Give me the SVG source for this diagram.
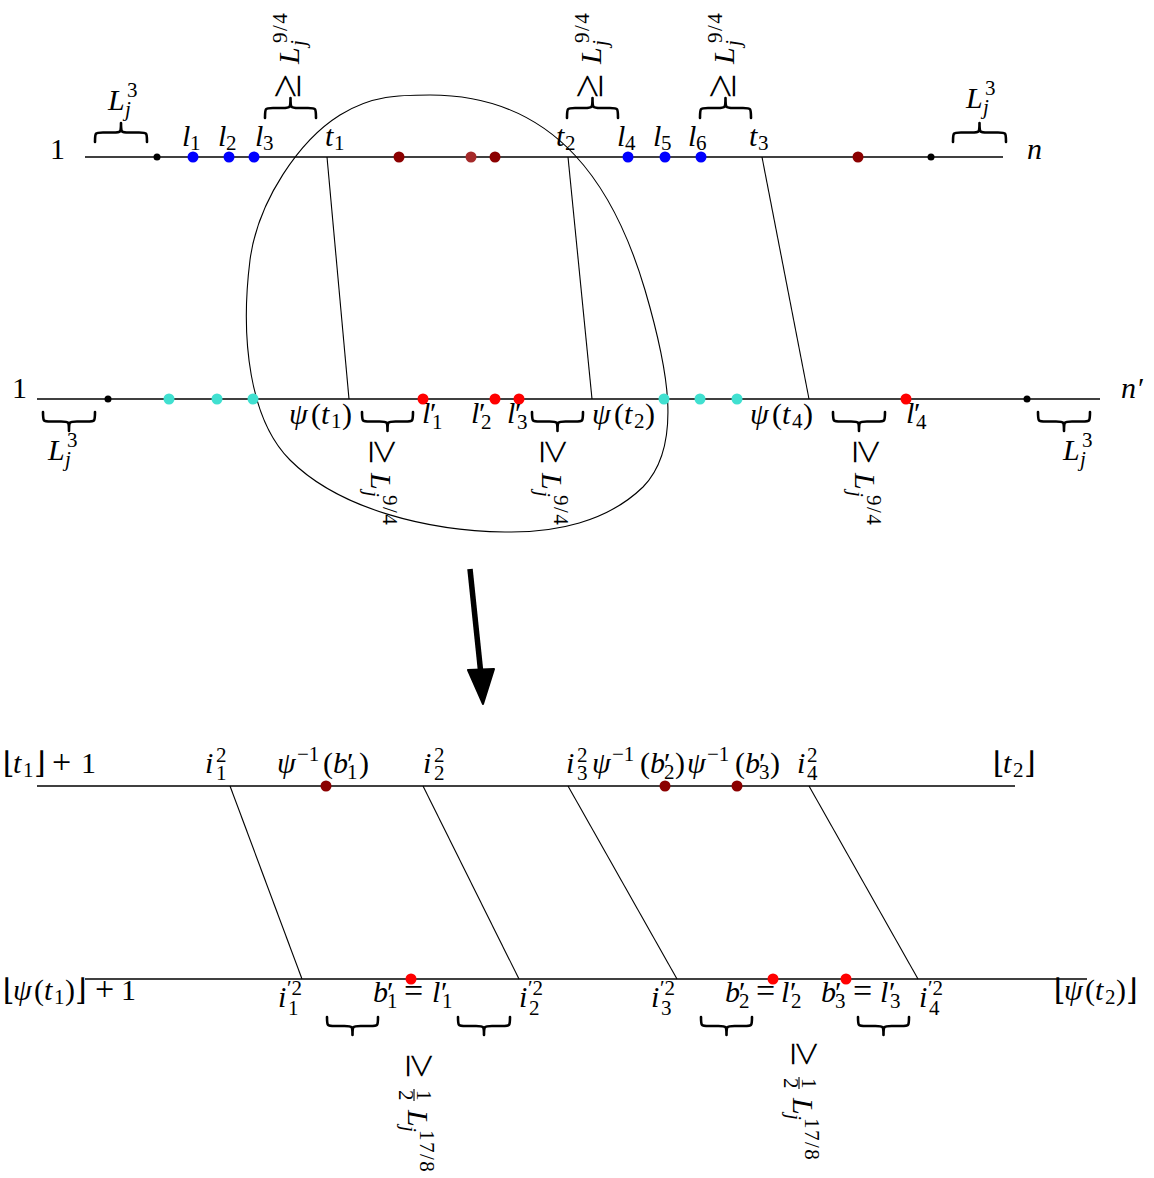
<svg xmlns="http://www.w3.org/2000/svg" width="1154" height="1178" viewBox="0 0 1154 1178" font-family="Liberation Serif, Times New Roman, DejaVu Serif, serif">
<style>
text{font-family:"Liberation Serif","Times New Roman","DejaVu Serif",serif;font-size:30px;fill:#000}
.i{font-style:italic}
.s{font-size:21px}
.g{font-size:44px}
.o{font-size:34px}
.f{letter-spacing:1.5px}
.ax{stroke:#000;stroke-width:1.3;fill:none}
.cn{stroke:#000;stroke-width:1.1;fill:none}
.br{stroke:#000;stroke-width:2.6;fill:none;stroke-linecap:round;stroke-linejoin:round}
.fb{stroke:#000;stroke-width:1.1}
.dk{fill:#000}
.bl{fill:#0000ff}
.dr{fill:#8b0000}
.bn{fill:#a52a2a}
.rd{fill:#ff0000}
.tq{fill:#40e0d0}
</style>
<rect width="1154" height="1178" fill="#fff"/>

<g id="connectors">
  <line class="cn" x1="327" y1="157" x2="349" y2="399"/>
  <line class="cn" x1="568" y1="157" x2="592" y2="399"/>
  <line class="cn" x1="762" y1="157" x2="809" y2="399"/>
  <line class="cn" x1="230" y1="786" x2="302" y2="979"/>
  <line class="cn" x1="423" y1="786" x2="519" y2="979"/>
  <line class="cn" x1="568" y1="786" x2="677" y2="979"/>
  <line class="cn" x1="809" y1="786" x2="918" y2="979"/>
  <line x1="470" y1="569" x2="481" y2="675" stroke="#000" stroke-width="5.5"/>
  <polygon points="468,670 494,669 483,704" fill="#000" stroke="#000" stroke-width="2" stroke-linejoin="round"/>
</g>

<g id="region">
  <path class="cn" d="M430,95 C560,95 616,192 645,290 C667,365 684,445 643,487 C607,522 555,533 505,532 C430,531 340,510 290,460 C250,420 240,340 250,260 C258,200 300,140 340,115 C372,95 400,95 430,95 Z"/>
</g>

<g id="top-sequence">
  <line class="ax" x1="85" y1="157" x2="1003" y2="157"/>
  <text x="50" y="159">1</text>
  <text class="i" x="1027" y="159">n</text>
  <circle class="dk" cx="157" cy="157" r="3.5"/>
  <circle class="bl" cx="193" cy="157" r="5.5"/>
  <circle class="bl" cx="229" cy="157" r="5.5"/>
  <circle class="bl" cx="254" cy="157" r="5.5"/>
  <circle class="dr" cx="399" cy="157" r="5.5"/>
  <circle class="bn" cx="471" cy="157" r="5.5"/>
  <circle class="dr" cx="495" cy="157" r="5.5"/>
  <circle class="bl" cx="628" cy="157" r="5.5"/>
  <circle class="bl" cx="665" cy="157" r="5.5"/>
  <circle class="bl" cx="701" cy="157" r="5.5"/>
  <circle class="dr" cx="858" cy="157" r="5.5"/>
  <circle class="dk" cx="931" cy="157" r="3.5"/>
  <text x="182" y="146"><tspan class="i">l</tspan><tspan class="s" x="190" y="150">1</tspan></text>
  <text x="218" y="146"><tspan class="i">l</tspan><tspan class="s" x="226" y="150">2</tspan></text>
  <text x="255" y="146"><tspan class="i">l</tspan><tspan class="s" x="263" y="150">3</tspan></text>
  <text x="325" y="146"><tspan class="i">t</tspan><tspan class="s" x="334" y="150">1</tspan></text>
  <text x="556" y="146"><tspan class="i">t</tspan><tspan class="s" x="565" y="150">2</tspan></text>
  <text x="617" y="146"><tspan class="i">l</tspan><tspan class="s" x="625" y="150">4</tspan></text>
  <text x="653" y="146"><tspan class="i">l</tspan><tspan class="s" x="661" y="150">5</tspan></text>
  <text x="688" y="146"><tspan class="i">l</tspan><tspan class="s" x="696" y="150">6</tspan></text>
  <text x="749" y="146"><tspan class="i">t</tspan><tspan class="s" x="758" y="150">3</tspan></text>
</g>

<g id="top-brace-1">
  <path class="br" d="M95,142 C95,132.5 95,132.5 103,132.5 L113,132.5 C121,132.5 121,132.5 121,123 C121,132.5 121,132.5 129,132.5 L139,132.5 C147,132.5 147,132.5 147,142"/>
  <text x="108" y="110"><tspan class="i">L</tspan><tspan class="s" x="127" y="97">3</tspan><tspan class="s i" x="125" y="116">j</tspan></text>
</g>
<g id="top-brace-2">
  <path class="br" d="M265,118 C265,108 265,108 273,108 L282.5,108 C290.5,108 290.5,108 290.5,98 C290.5,108 290.5,108 298.5,108 L308,108 C316,108 316,108 316,118"/>
  <text transform="translate(299,97) rotate(-90)"><tspan class="g" x="-1" y="1">≥</tspan><tspan class="i" x="33" y="0">L</tspan><tspan class="s f" x="54" y="-12">9/4</tspan><tspan class="s i" x="51" y="6">j</tspan></text>
</g>
<g id="top-brace-3">
  <path class="br" d="M567,118 C567,108 567,108 575,108 L584.5,108 C592.5,108 592.5,108 592.5,98 C592.5,108 592.5,108 600.5,108 L610,108 C618,108 618,108 618,118"/>
  <text transform="translate(601,97) rotate(-90)"><tspan class="g" x="-1" y="1">≥</tspan><tspan class="i" x="33" y="0">L</tspan><tspan class="s f" x="54" y="-12">9/4</tspan><tspan class="s i" x="51" y="6">j</tspan></text>
</g>
<g id="top-brace-4">
  <path class="br" d="M700,118 C700,108 700,108 708,108 L717.5,108 C725.5,108 725.5,108 725.5,98 C725.5,108 725.5,108 733.5,108 L743,108 C751,108 751,108 751,118"/>
  <text transform="translate(734,97) rotate(-90)"><tspan class="g" x="-1" y="1">≥</tspan><tspan class="i" x="33" y="0">L</tspan><tspan class="s f" x="54" y="-12">9/4</tspan><tspan class="s i" x="51" y="6">j</tspan></text>
</g>
<g id="top-brace-5">
  <path class="br" d="M953,142 C953,132.5 953,132.5 961,132.5 L971.5,132.5 C979.5,132.5 979.5,132.5 979.5,123 C979.5,132.5 979.5,132.5 987.5,132.5 L998,132.5 C1006,132.5 1006,132.5 1006,142"/>
  <text x="966" y="108"><tspan class="i">L</tspan><tspan class="s" x="985" y="95">3</tspan><tspan class="s i" x="983" y="114">j</tspan></text>
</g>

<g id="second-sequence">
  <line class="ax" x1="37" y1="399" x2="1100" y2="399"/>
  <text x="12" y="398">1</text>
  <text x="1121" y="398"><tspan class="i">n</tspan><tspan x="1138">′</tspan></text>
  <circle class="dk" cx="108" cy="399" r="3.5"/>
  <circle class="tq" cx="169" cy="399" r="5.5"/>
  <circle class="tq" cx="217" cy="399" r="5.5"/>
  <circle class="tq" cx="253" cy="399" r="5.5"/>
  <circle class="rd" cx="423" cy="399" r="5.5"/>
  <circle class="rd" cx="495" cy="399" r="5.5"/>
  <circle class="rd" cx="519" cy="399" r="5.5"/>
  <circle class="tq" cx="664" cy="399" r="5.5"/>
  <circle class="tq" cx="700" cy="399" r="5.5"/>
  <circle class="tq" cx="737" cy="399" r="5.5"/>
  <circle class="rd" cx="906" cy="399" r="5.5"/>
  <circle class="dk" cx="1027" cy="399" r="3.5"/>
  <text x="289" y="424"><tspan class="i">ψ</tspan><tspan x="311">(</tspan><tspan class="i" x="321">t</tspan><tspan class="s" x="331" y="428">1</tspan><tspan x="342" y="424">)</tspan></text>
  <text x="592" y="424"><tspan class="i">ψ</tspan><tspan x="614">(</tspan><tspan class="i" x="624">t</tspan><tspan class="s" x="634" y="428">2</tspan><tspan x="645" y="424">)</tspan></text>
  <text x="750" y="424"><tspan class="i">ψ</tspan><tspan x="772">(</tspan><tspan class="i" x="782">t</tspan><tspan class="s" x="792" y="428">4</tspan><tspan x="803" y="424">)</tspan></text>
  <text x="422" y="423"><tspan class="i">l</tspan><tspan x="430">′</tspan><tspan class="s" x="432" y="429">1</tspan></text>
  <text x="471" y="423"><tspan class="i">l</tspan><tspan x="479">′</tspan><tspan class="s" x="481" y="429">2</tspan></text>
  <text x="507" y="423"><tspan class="i">l</tspan><tspan x="515">′</tspan><tspan class="s" x="517" y="429">3</tspan></text>
  <text x="906" y="423"><tspan class="i">l</tspan><tspan x="914">′</tspan><tspan class="s" x="916" y="429">4</tspan></text>
</g>

<g id="mid-brace-1">
  <path class="br" d="M43,412 C43,421.5 43,421.5 51,421.5 L61,421.5 C69,421.5 69,421.5 69,431 C69,421.5 69,421.5 77,421.5 L87,421.5 C95,421.5 95,421.5 95,412"/>
  <text x="48" y="460"><tspan class="i">L</tspan><tspan class="s" x="67" y="447">3</tspan><tspan class="s i" x="65" y="466">j</tspan></text>
</g>
<g id="mid-brace-2">
  <path class="br" d="M362,412 C362,421.5 362,421.5 370,421.5 L379.5,421.5 C387.5,421.5 387.5,421.5 387.5,431 C387.5,421.5 387.5,421.5 395.5,421.5 L405,421.5 C413,421.5 413,421.5 413,412"/>
  <text transform="translate(371,440) rotate(90)"><tspan class="g" x="0" y="1">≥</tspan><tspan class="i" x="33" y="0">L</tspan><tspan class="s f" x="55" y="-12">9/4</tspan><tspan class="s i" x="51" y="6">j</tspan></text>
</g>
<g id="mid-brace-3">
  <path class="br" d="M532,412 C532,421.5 532,421.5 540,421.5 L549.5,421.5 C557.5,421.5 557.5,421.5 557.5,431 C557.5,421.5 557.5,421.5 565.5,421.5 L575,421.5 C583,421.5 583,421.5 583,412"/>
  <text transform="translate(542,440) rotate(90)"><tspan class="g" x="0" y="1">≥</tspan><tspan class="i" x="33" y="0">L</tspan><tspan class="s f" x="55" y="-12">9/4</tspan><tspan class="s i" x="51" y="6">j</tspan></text>
</g>
<g id="mid-brace-4">
  <path class="br" d="M833,412 C833,421.5 833,421.5 841,421.5 L851,421.5 C859,421.5 859,421.5 859,431 C859,421.5 859,421.5 867,421.5 L877,421.5 C885,421.5 885,421.5 885,412"/>
  <text transform="translate(855,440) rotate(90)"><tspan class="g" x="0" y="1">≥</tspan><tspan class="i" x="33" y="0">L</tspan><tspan class="s f" x="55" y="-12">9/4</tspan><tspan class="s i" x="51" y="6">j</tspan></text>
</g>
<g id="mid-brace-5">
  <path class="br" d="M1038,412 C1038,421.5 1038,421.5 1046,421.5 L1056,421.5 C1064,421.5 1064,421.5 1064,431 C1064,421.5 1064,421.5 1072,421.5 L1082,421.5 C1090,421.5 1090,421.5 1090,412"/>
  <text x="1063" y="460"><tspan class="i">L</tspan><tspan class="s" x="1082" y="447">3</tspan><tspan class="s i" x="1080" y="466">j</tspan></text>
</g>

<g id="zoom-top-sequence">
  <line class="ax" x1="37" y1="786" x2="1015" y2="786"/>
  <circle class="dr" cx="326" cy="786" r="5.5"/>
  <circle class="dr" cx="665" cy="786" r="5.5"/>
  <circle class="dr" cx="737" cy="786" r="5.5"/>
  <text x="3" y="773">⌊<tspan class="i" x="13">t</tspan><tspan class="s" x="23" y="777">1</tspan><tspan x="34" y="773">⌋</tspan><tspan class="o" x="52">+</tspan><tspan x="81">1</tspan></text>
  <text x="205" y="773"><tspan class="i">i</tspan><tspan class="s" x="216" y="762">2</tspan><tspan class="s" x="216" y="780">1</tspan></text>
  <text x="277" y="773"><tspan class="i">ψ</tspan><tspan class="s" x="297" y="761">−1</tspan><tspan x="323" y="773">(</tspan><tspan class="i" x="333">b</tspan><tspan x="347">′</tspan><tspan class="s" x="347" y="779">1</tspan><tspan x="359" y="773">)</tspan></text>
  <text x="423" y="773"><tspan class="i">i</tspan><tspan class="s" x="434" y="762">2</tspan><tspan class="s" x="434" y="780">2</tspan></text>
  <text x="566" y="773"><tspan class="i">i</tspan><tspan class="s" x="577" y="762">2</tspan><tspan class="s" x="577" y="780">3</tspan></text>
  <text x="592" y="773"><tspan class="i">ψ</tspan><tspan class="s" x="612" y="761">−1</tspan><tspan x="640" y="773">(</tspan><tspan class="i" x="650">b</tspan><tspan x="664">′</tspan><tspan class="s" x="664" y="779">2</tspan><tspan x="675" y="773">)</tspan></text>
  <text x="687" y="773"><tspan class="i">ψ</tspan><tspan class="s" x="707" y="761">−1</tspan><tspan x="735" y="773">(</tspan><tspan class="i" x="745">b</tspan><tspan x="759">′</tspan><tspan class="s" x="759" y="779">3</tspan><tspan x="770" y="773">)</tspan></text>
  <text x="797" y="773"><tspan class="i">i</tspan><tspan class="s" x="807" y="762">2</tspan><tspan class="s" x="807" y="780">4</tspan></text>
  <text x="993" y="773">⌊<tspan class="i" x="1003">t</tspan><tspan class="s" x="1013" y="777">2</tspan><tspan x="1024" y="773">⌋</tspan></text>
</g>

<g id="zoom-bottom-sequence">
  <line class="ax" x1="85" y1="979" x2="1087" y2="979"/>
  <circle class="rd" cx="411" cy="979" r="5.5"/>
  <circle class="rd" cx="773" cy="979" r="5.5"/>
  <circle class="rd" cx="846" cy="979" r="5.5"/>
  <text x="3" y="1000">⌊<tspan class="i" x="13">ψ</tspan><tspan x="34">(</tspan><tspan class="i" x="44">t</tspan><tspan class="s" x="54" y="1004">1</tspan><tspan x="65" y="1000">)</tspan><tspan x="75">⌋</tspan><tspan class="o" x="95">+</tspan><tspan x="121">1</tspan></text>
  <text x="278" y="1007"><tspan class="i">i</tspan><tspan class="s" x="287" y="995">′2</tspan><tspan class="s" x="288" y="1015">1</tspan></text>
  <text x="519" y="1007"><tspan class="i">i</tspan><tspan class="s" x="528" y="995">′2</tspan><tspan class="s" x="529" y="1015">2</tspan></text>
  <text x="651" y="1007"><tspan class="i">i</tspan><tspan class="s" x="660" y="995">′2</tspan><tspan class="s" x="661" y="1015">3</tspan></text>
  <text x="919" y="1007"><tspan class="i">i</tspan><tspan class="s" x="928" y="995">′2</tspan><tspan class="s" x="929" y="1015">4</tspan></text>
  <text x="373" y="1002"><tspan class="i">b</tspan><tspan x="387">′</tspan><tspan class="s" x="387" y="1008">1</tspan><tspan class="o" x="404" y="1002">=</tspan><tspan class="i" x="432">l</tspan><tspan x="441">′</tspan><tspan class="s" x="442" y="1008">1</tspan></text>
  <text x="725" y="1002"><tspan class="i">b</tspan><tspan x="739">′</tspan><tspan class="s" x="739" y="1008">2</tspan><tspan class="o" x="756" y="1002">=</tspan><tspan class="i" x="781">l</tspan><tspan x="790">′</tspan><tspan class="s" x="791" y="1008">2</tspan></text>
  <text x="821" y="1002"><tspan class="i">b</tspan><tspan x="835">′</tspan><tspan class="s" x="835" y="1008">3</tspan><tspan class="o" x="853" y="1002">=</tspan><tspan class="i" x="880">l</tspan><tspan x="889">′</tspan><tspan class="s" x="890" y="1008">3</tspan></text>
  <text x="1054" y="1000">⌊<tspan class="i" x="1064">ψ</tspan><tspan x="1085">(</tspan><tspan class="i" x="1095">t</tspan><tspan class="s" x="1105" y="1004">2</tspan><tspan x="1116" y="1000">)</tspan><tspan x="1126">⌋</tspan></text>
</g>

<g id="low-brace-1">
  <path class="br" d="M327,1017 C327,1026 327,1026 335,1026 L344.5,1026 C352.5,1026 352.5,1026 352.5,1035 C352.5,1026 352.5,1026 360.5,1026 L370,1026 C378,1026 378,1026 378,1017"/>
</g>
<g id="low-brace-2">
  <path class="br" d="M458,1017 C458,1026 458,1026 466,1026 L476,1026 C484,1026 484,1026 484,1035 C484,1026 484,1026 492,1026 L502,1026 C510,1026 510,1026 510,1017"/>
</g>
<g id="low-label-1" transform="translate(408,1054) rotate(90)">
  <text><tspan class="g" x="0" y="1">≥</tspan><tspan class="s" x="36" y="-9">1</tspan><tspan class="s" x="36" y="9">2</tspan><tspan class="i" x="56" y="0">L</tspan><tspan class="s f" x="76" y="-12">17/8</tspan><tspan class="s i" x="72" y="6">j</tspan></text>
  <line class="fb" x1="35" y1="-6" x2="47" y2="-6"/>
</g>
<g id="low-brace-3">
  <path class="br" d="M701,1017 C701,1026 701,1026 709,1026 L718.5,1026 C726.5,1026 726.5,1026 726.5,1035 C726.5,1026 726.5,1026 734.5,1026 L744,1026 C752,1026 752,1026 752,1017"/>
</g>
<g id="low-brace-4">
  <path class="br" d="M858,1017 C858,1026 858,1026 866,1026 L875.5,1026 C883.5,1026 883.5,1026 883.5,1035 C883.5,1026 883.5,1026 891.5,1026 L901,1026 C909,1026 909,1026 909,1017"/>
</g>
<g id="low-label-2" transform="translate(793,1042) rotate(90)">
  <text><tspan class="g" x="0" y="1">≥</tspan><tspan class="s" x="36" y="-9">1</tspan><tspan class="s" x="36" y="9">2</tspan><tspan class="i" x="56" y="0">L</tspan><tspan class="s f" x="76" y="-12">17/8</tspan><tspan class="s i" x="72" y="6">j</tspan></text>
  <line class="fb" x1="35" y1="-6" x2="47" y2="-6"/>
</g>
</svg>
